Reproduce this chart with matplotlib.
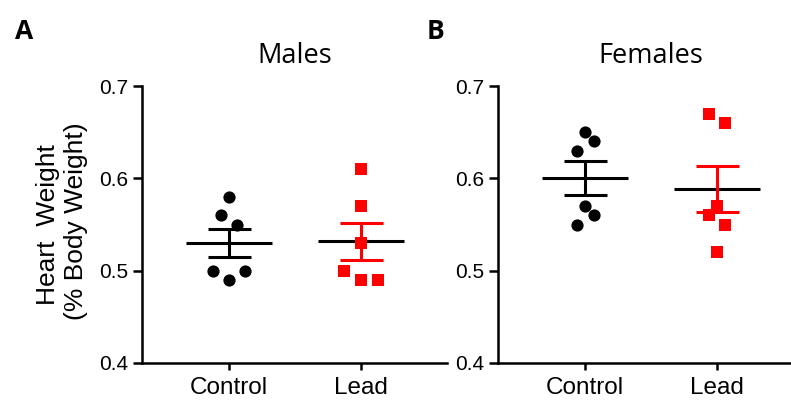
import numpy as np
import matplotlib
matplotlib.use("Agg")
import matplotlib.pyplot as plt

# ---- data ----
groups = ["Control", "Lead"]
males_control = [0.58, 0.56, 0.55, 0.50, 0.50, 0.49]
males_lead = [0.61, 0.57, 0.53, 0.50, 0.49, 0.49]
females_control = [0.65, 0.64, 0.63, 0.57, 0.56, 0.55]
females_lead = [0.67, 0.66, 0.57, 0.56, 0.55, 0.52]
yticks = [0.4, 0.5, 0.6, 0.7]

# ---- layout (horizontal scatter spread, in pixels) ----
jit_males_control = [0, -8, 8, -16, 16, 0]
jit_males_lead = [0, 0, 0, -17, 0, 17]
jit_females_control = [0, 9, -8, 0, 9, -8]
jit_females_lead = [-8, 8, 0, -8, 8, 0]
PX = 1 / 132.0

W, H = 791, 401
fig = plt.figure(figsize=(W / 100, H / 100), dpi=100)

tick_font = "Liberation Sans"
title_font = "Open Sans"
RED = "#ff0000"

def panel(left_px, title, ctrl, lead, jc, jl, letter, letter_x):
    ax = fig.add_axes([left_px / W, 1 - 363 / H, 305 / W, (363 - 86) / H])
    ax.set_xlim(-0.66, 1.65)
    ax.set_ylim(0.4, 0.7)
    for s in ["top", "right"]:
        ax.spines[s].set_visible(False)
    for s in ["left", "bottom"]:
        ax.spines[s].set_linewidth(1.8)
    ax.set_yticks(yticks)
    ax.set_yticklabels([f"{v:.1f}" for v in yticks], fontfamily=tick_font, fontsize=15)
    ax.set_xticks([0, 1])
    ax.set_xticklabels(groups, fontfamily=tick_font, fontsize=17.5)
    ax.tick_params(axis="y", length=6.5, width=1.8, pad=3.5)
    ax.tick_params(axis="x", length=5, width=1.8, pad=5)

    for i, (vals, jit, col, mk, ms) in enumerate(
        [(ctrl, jc, "black", "o", 8.8), (lead, jl, RED, "s", 8.3)]):
        vals = np.array(vals)
        xs = i + np.array(jit) * PX
        m = vals.mean()
        sem = vals.std(ddof=1) / np.sqrt(len(vals))
        ax.plot(xs, vals, linestyle="none", marker=mk, color=col,
                markersize=ms, markeredgewidth=0, zorder=5, clip_on=False)
        ax.plot([i - 0.326, i + 0.326], [m, m], color="black", lw=2.2,
                solid_capstyle="butt", zorder=4)
        ax.errorbar([i], [m], yerr=[sem], fmt="none", ecolor=col,
                    elinewidth=2.2, capsize=0, zorder=4)
        for yy in (m - sem, m + sem):
            ax.plot([i - 0.163, i + 0.163], [yy, yy], color=col, lw=2.2,
                    solid_capstyle="butt", zorder=4)

    cx = (left_px + 152.5) / W
    fig.text(cx, 1 - 63 / H, title, fontfamily=title_font, fontsize=19.5,
             ha="center", va="baseline")
    fig.text(letter_x / W, 1 - 39 / H, letter, fontfamily=title_font,
             fontweight="bold", fontsize=19, ha="left", va="baseline")
    return ax

panel(142, "Males", males_control, males_lead, jit_males_control,
      jit_males_lead, "A", 15)
panel(498, "Females", females_control, females_lead, jit_females_control,
      jit_females_lead, "B", 427)

fig.text(55 / W, 1 - 225 / H, "Heart  Weight", fontfamily=tick_font,
         fontsize=19, rotation=90, rotation_mode="anchor",
         ha="center", va="baseline")
fig.text(83 / W, 1 - 221 / H, "(% Body Weight)", fontfamily=tick_font,
         fontsize=19, rotation=90, rotation_mode="anchor",
         ha="center", va="baseline")

fig.savefig("out.png", dpi=100)
